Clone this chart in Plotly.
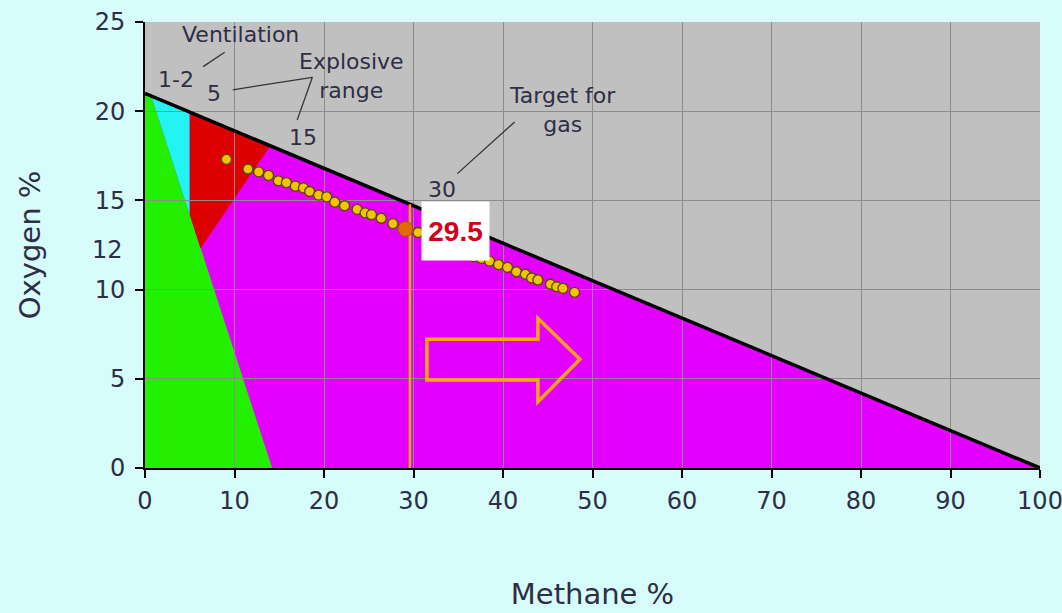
import plotly.graph_objects as go

# ---------------- data ----------------
# Flammability diagram regions (methane %, oxygen %)
air_line_x = [0, 100]
air_line_y = [21, 0]

magenta_x = [0, 100, 0]
magenta_y = [21, 0, 0]
green_x = [0, 0.7, 14.2, 0]
green_y = [21, 20.85, 0, 0]
cyan_x = [0.7, 5, 5]
cyan_y = [20.85, 19.95, 14.2]
red_x = [5, 14, 6.2, 5]
red_y = [19.95, 18.06, 12.3, 14.2]

# measured gas samples
sample_x = [9.1, 11.5, 12.7, 13.8, 14.9, 15.8, 16.8, 17.7, 18.4, 19.4, 20.3, 21.2,
            22.3, 23.7, 24.6, 25.3, 26.4, 27.7, 30.5, 36.7, 37.6, 38.5, 39.5, 40.5,
            41.5, 42.5, 43.2, 43.9, 45.3, 46.0, 46.7, 48.0]
sample_y = [17.3, 16.76, 16.6, 16.4, 16.1, 16.0, 15.8, 15.7, 15.5, 15.3, 15.2, 14.9,
            14.7, 14.5, 14.3, 14.2, 14.0, 13.7, 13.2, 11.85, 11.75, 11.6, 11.4, 11.25,
            11.0, 10.86, 10.65, 10.54, 10.3, 10.16, 10.07, 9.85]

current_x = [29.1]
current_y = [13.4]
current_label = "29.5"

target_x = [29.6, 29.6]
target_y = [0, 14.78]

arrow_x = [31.5, 43.9, 43.9, 48.6, 43.9, 43.9, 31.5]
arrow_y = [7.21, 7.21, 8.39, 6.09, 3.72, 4.93, 4.93]

x_ticks = [0, 10, 20, 30, 40, 50, 60, 70, 80, 90, 100]
y_ticks = [0, 5, 10, 15, 20, 25]

# ---------------- styles ----------------
PAPER = "#d6fcfc"
PLOTBG = "#c0c0c0"
TXT = "#2e2e44"
FONT = "DejaVu Sans, Arial, sans-serif"
BOLDFONT = "Liberation Sans, Arial, sans-serif"


def poly_path(xs, ys):
    return "M " + " L ".join(f"{x},{y}" for x, y in zip(xs, ys)) + " Z"


fig = go.Figure()

shapes = []
for xs, ys, col in [(magenta_x, magenta_y, "#e400ff"),
                    (green_x, green_y, "#22f000"),
                    (cyan_x, cyan_y, "#22f4f4"),
                    (red_x, red_y, "#dc0000")]:
    shapes.append(dict(type="path", path=poly_path(xs, ys), xref="x", yref="y",
                       fillcolor=col, line=dict(width=0), layer="below"))

shapes.append(dict(type="path", path=poly_path(arrow_x, arrow_y), xref="x", yref="y",
                   fillcolor="rgba(0,0,0,0)", line=dict(color="#ffa31a", width=3.5),
                   layer="above"))

# leader lines for the text labels
leaders = [((6.5, 22.5), (8.9, 23.3)),
           ((9.8, 21.2), (18.7, 21.9)),
           ((18.7, 21.9), (17.0, 19.5)),
           ((34.9, 16.5), (41.3, 19.4))]
for (x0, y0), (x1, y1) in leaders:
    shapes.append(dict(type="line", x0=x0, y0=y0, x1=x1, y1=y1, xref="x", yref="y",
                       line=dict(color="#333333", width=1.3), layer="above"))

fig.add_trace(go.Scatter(x=air_line_x, y=air_line_y, mode="lines",
                         line=dict(color="black", width=3.5), hoverinfo="skip",
                         showlegend=False))
fig.add_trace(go.Scatter(x=target_x, y=target_y, mode="lines",
                         line=dict(color="#f5a800", width=2.5), showlegend=False))
fig.add_trace(go.Scatter(x=sample_x, y=sample_y, mode="markers",
                         marker=dict(size=10, color="#f2c400",
                                     line=dict(color="#5a4800", width=1.3)),
                         showlegend=False))
fig.add_trace(go.Scatter(x=current_x, y=current_y, mode="markers",
                         marker=dict(size=15, color="#e06a00",
                                     line=dict(color="#a84a00", width=1)),
                         showlegend=False))

annots = [
    dict(text="Ventilation", x=10.7, y=24.3),
    dict(text="1-2", x=3.46, y=21.75),
    dict(text="5", x=7.7, y=21.0),
    dict(text="Explosive<br>range", x=23.1, y=22.0),
    dict(text="15", x=17.7, y=18.5),
    dict(text="Target for<br>gas", x=46.6, y=20.04),
    dict(text="30", x=33.2, y=15.6),
]
ann_list = []
for a in annots:
    ann_list.append(dict(text=a["text"], x=a["x"], y=a["y"], xref="x", yref="y",
                         showarrow=False, font=dict(family=FONT, size=22, color=TXT),
                         align="center"))
ann_list.append(dict(text=f"<b>{current_label}</b>", x=34.7, y=13.28, xref="x", yref="y",
                     showarrow=False, bgcolor="white", width=67, height=58,
                     borderpad=0, font=dict(family=BOLDFONT, size=28, color="#d40018")))
ann_list.append(dict(text="12", x=0, y=12.2, xref="paper", yref="y", xanchor="right",
                     xshift=-20, showarrow=False,
                     font=dict(family=FONT, size=24, color=TXT)))

fig.update_layout(
    width=1062, height=613, autosize=False,
    paper_bgcolor=PAPER, plot_bgcolor=PLOTBG,
    margin=dict(l=145, r=22, t=22, b=145),
    shapes=shapes, annotations=ann_list,
    font=dict(family=FONT, color=TXT),
    xaxis=dict(range=[0, 100], tickvals=x_ticks, showgrid=True,
               gridcolor="#8c8c8c", gridwidth=1, zeroline=False,
               showline=True, linecolor="black", linewidth=2,
               ticks="outside", ticklen=8, tickwidth=2, tickcolor="black",
               tickfont=dict(size=24, color=TXT), ticklabelstandoff=2,
               ticklabeloverflow="allow", automargin=False,
               title=dict(text="Methane %", font=dict(size=29, color=TXT), standoff=70)),
    yaxis=dict(range=[0, 25], tickvals=y_ticks, showgrid=True,
               gridcolor="#8c8c8c", gridwidth=1, zeroline=False,
               showline=True, linecolor="black", linewidth=2,
               ticks="outside", ticklen=8, tickwidth=2, tickcolor="black",
               tickfont=dict(size=24, color=TXT), ticklabelstandoff=5,
               ticklabeloverflow="allow", automargin=False,
               title=dict(text="Oxygen %", font=dict(size=29, color=TXT), standoff=46)),
)

fig.write_html(
    "out.html",
    config={"displayModeBar": False},
    post_script="document.body.style.margin='0';document.body.style.background='#d6fcfc';",
)
